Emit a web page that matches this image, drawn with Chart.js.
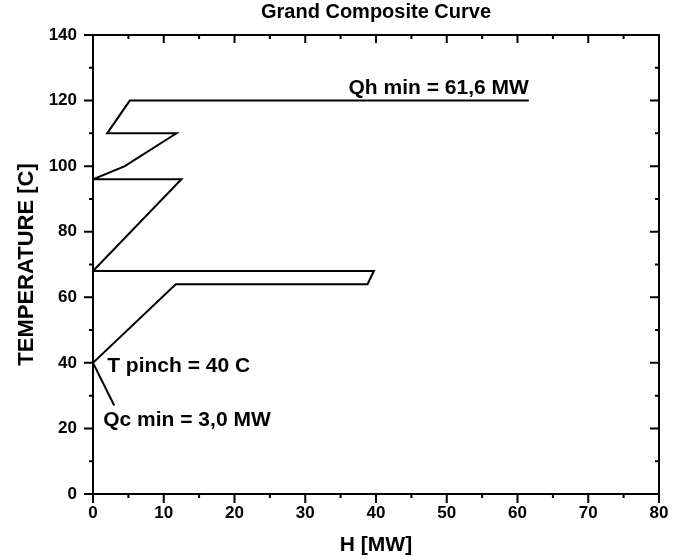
<!DOCTYPE html>
<html>
<head>
<meta charset="utf-8">
<script src="https://cdn.jsdelivr.net/npm/chart.js@4.4.1/dist/chart.umd.min.js"></script>
<style>
  html, body { margin: 0; padding: 0; background: #fff; }
  #wrap { width: 680px; height: 560px; }
</style>
</head>
<body>
<div id="wrap"><canvas id="gcc"></canvas></div>
<script>
// grand composite curve
const hValues = [61.6, 5.2, 2.0, 11.8, 4.5, 0, 12.5, 0, 39.7, 38.8, 11.7, 0, 3.0];
const tValues = [120, 120, 110, 110, 100, 96, 96, 68, 68, 64, 64, 40, 27];

const xTicks = [0, 10, 20, 30, 40, 50, 60, 70, 80];
const yTicks = [0, 20, 40, 60, 80, 100, 120, 140];

const notes = [
  { text: "Qh min = 61,6 MW", h: 61.6, t: 120, align: "right", dy: -12 },
  { text: "T pinch = 40 C", h: 2.0, t: 40, align: "left", dy: 3 },
  { text: "Qc min = 3,0 MW", h: 1.45, t: 22.5, align: "left", dy: 0 },
];

const FONT = "'Liberation Sans', Arial, sans-serif";

const points = hValues.map((h, i) => ({ x: h, y: tValues[i] }));

// frame + origin-style ticks (outside on left/bottom, inside on top/right)
const framePlugin = {
  id: "frame",
  afterDraw(chart) {
    const { ctx, chartArea: a, scales } = chart;
    const x = scales.x;
    const y = scales.y;
    ctx.save();
    ctx.strokeStyle = "#000";
    ctx.lineWidth = 2;
    ctx.strokeRect(a.left, a.top, a.right - a.left, a.bottom - a.top);

    ctx.beginPath();
    for (let v = 0; v <= 80; v += 5) {
      const px = x.getPixelForValue(v);
      const major = xTicks.includes(v);
      ctx.moveTo(px, a.bottom);
      ctx.lineTo(px, a.bottom + (major ? 9 : 4));
      ctx.moveTo(px, a.top);
      ctx.lineTo(px, a.top + (major ? 8 : 4));
    }
    for (let v = 0; v <= 140; v += 10) {
      const py = y.getPixelForValue(v);
      const major = yTicks.includes(v);
      ctx.moveTo(a.left, py);
      ctx.lineTo(a.left - (major ? 9 : 4), py);
      ctx.moveTo(a.right, py);
      ctx.lineTo(a.right - (major ? 9 : 4), py);
    }
    ctx.stroke();

    ctx.fillStyle = "#000";
    ctx.font = "bold 21px " + FONT;
    ctx.textBaseline = "middle";
    notes.forEach((n) => {
      ctx.textAlign = n.align;
      ctx.fillText(n.text, x.getPixelForValue(n.h), y.getPixelForValue(n.t) + n.dy);
    });
    ctx.restore();
  },
};

new Chart(document.getElementById("gcc"), {
  type: "scatter",
  data: {
    datasets: [
      {
        data: points,
        showLine: true,
        borderColor: "#000",
        borderWidth: 2,
        pointRadius: 0,
        fill: false,
        tension: 0,
      },
    ],
  },
  options: {
    responsive: true,
    maintainAspectRatio: false,
    animation: false,
    layout: { padding: { left: 0, right: 21, top: 0, bottom: 0 } },
    plugins: {
      legend: { display: false },
      tooltip: { enabled: false },
      title: {
        display: true,
        text: "Grand Composite Curve",
        color: "#000",
        fullSize: false,
        font: { family: FONT, size: 20, weight: "bold" },
        padding: { top: 0, bottom: 11 },
      },
    },
    scales: {
      x: {
        type: "linear",
        min: 0,
        max: 80,
        afterFit: (scale) => { scale.height = 66; },
        ticks: {
          stepSize: 10,
          color: "#000",
          padding: 9,
          maxRotation: 0,
          font: { family: FONT, size: 17, weight: "bold" },
        },
        grid: { display: false, drawTicks: false },
        border: { display: false },
        title: {
          display: true,
          text: "H [MW]",
          color: "#000",
          font: { family: FONT, size: 21, weight: "bold" },
          padding: { top: 0, bottom: 2 },
        },
      },
      y: {
        type: "linear",
        min: 0,
        max: 140,
        afterFit: (scale) => { scale.width = 93; },
        ticks: {
          stepSize: 20,
          color: "#000",
          padding: 16,
          font: { family: FONT, size: 17, weight: "bold" },
        },
        grid: { display: false, drawTicks: false },
        border: { display: false },
        title: {
          display: true,
          text: "TEMPERATURE [C]",
          color: "#000",
          font: { family: FONT, size: 22, weight: "bold" },
          padding: { top: 14, bottom: 0 },
        },
      },
    },
  },
  plugins: [framePlugin],
});
</script>
</body>
</html>
